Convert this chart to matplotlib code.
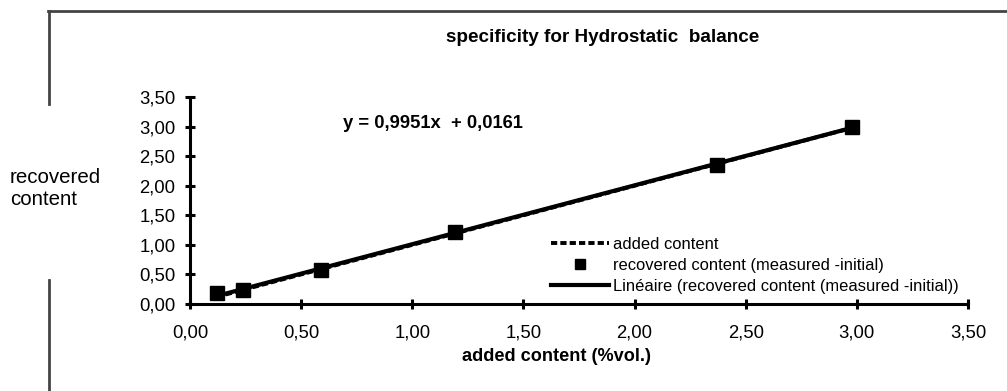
#specificity plot for the hydrostatic balance, added vs recovered content

import numpy as np
import matplotlib
matplotlib.use('Agg')
import matplotlib.pyplot as plt
from matplotlib.lines import Line2D
from matplotlib.ticker import FuncFormatter, MultipleLocator

plt.rcParams['font.family'] = ['Liberation Sans', 'DejaVu Sans']

#data
added     = [0.12, 0.24, 0.59, 1.19, 2.37, 2.98]    #added content (%vol.)
recovered = [0.18, 0.23, 0.58, 1.22, 2.35, 2.99]    #recovered content (measured - initial)
slope     = 0.9951                                  #trend line from the spreadsheet
intercept = 0.0161

labels = ['added content', 'recovered content (measured -initial)',
          'Linéaire (recovered content (measured -initial))']

fig = plt.figure(figsize=(10.07, 3.91), dpi=100)
ax = fig.add_axes([190/1007, 1 - 304/391, 778/1007, 207/391])

x = np.array(added)
ax.plot(x, x, color='black', lw=2.8, ls=(0, (1.6, 0.8)), label=labels[0])    #added vs added
ax.plot(added, recovered, ls='none', marker='s', ms=9.5, color='black', label=labels[1])
ax.plot(x, slope * x + intercept, color='black', lw=3.0, label=labels[2])

ax.set_xlim(0, 3.5)
ax.set_ylim(0, 3.5)
ax.xaxis.set_major_locator(MultipleLocator(0.5))
ax.yaxis.set_major_locator(MultipleLocator(0.5))
comma = FuncFormatter(lambda v, p: ('%.2f' % v).replace('.', ','))
ax.xaxis.set_major_formatter(comma)
ax.yaxis.set_major_formatter(comma)

for s in ['top', 'right']:
    ax.spines[s].set_visible(False)
for s in ['left', 'bottom']:
    ax.spines[s].set_linewidth(2.2)
ax.tick_params(direction='inout', length=7, width=2.2, labelsize=13.3, colors='black')
ax.tick_params(axis='x', pad=11)
ax.tick_params(axis='y', pad=7)

ax.set_xlabel('added content (%vol.)', fontsize=13.1, fontweight='bold')
ax.xaxis.set_label_coords(557/1007, 1 - 348/391, transform=fig.transFigure)
fig.text(10/1007, 1 - 188/391, 'recovered\ncontent', fontsize=14.8, ha='left', va='center',
         linespacing=1.2)
fig.text(603/1007, 1 - 38/391, 'specificity for Hydrostatic  balance', fontsize=13.6,
         fontweight='bold', ha='center', va='center')
ax.text(0.69, 3.06, 'y = 0,9951x  + 0,0161', fontsize=13.2, fontweight='bold', va='center')

ax.legend(loc='upper left', bbox_to_anchor=(543/1007, 1 - 229/391),
          bbox_transform=fig.transFigure, frameon=False, fontsize=11.9,
          handlelength=3.5, handletextpad=0.25, labelspacing=0.36, borderpad=0,
          markerscale=0.7)

#outer chart border, partly hidden behind the y label
grey = '#444444'
fig.add_artist(Line2D([48/1007, 1], [1 - 11/391, 1 - 11/391], color=grey, lw=2))
fig.add_artist(Line2D([49/1007, 49/1007], [1 - 11/391, 1 - 104/391], color=grey, lw=2))
fig.add_artist(Line2D([49/1007, 49/1007], [1 - 280/391, 0], color=grey, lw=2))

fig.savefig('out.png', dpi=100)
